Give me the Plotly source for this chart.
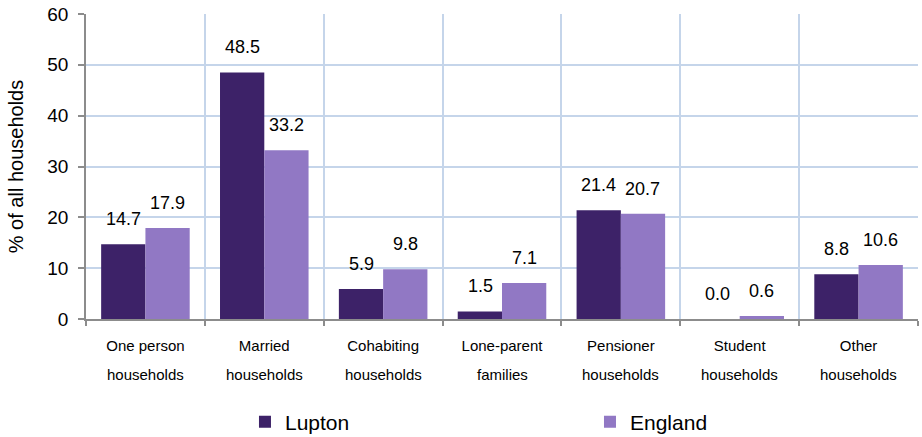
import plotly.graph_objects as go

categories = ["One person households", "Married households", "Cohabiting households",
              "Lone-parent families", "Pensioner households", "Student households",
              "Other households"]
label_line1 = ["One person", "Married", "Cohabiting", "Lone-parent", "Pensioner", "Student", "Other"]
label_line2 = ["households", "households", "households", "families", "households", "households", "households"]
lupton = [14.7, 48.5, 5.9, 1.5, 21.4, 0.0, 8.8]
england = [17.9, 33.2, 9.8, 7.1, 20.7, 0.6, 10.6]

C_LUP = "#3D2268"
C_ENG = "#9178C4"
GRID = "#C5D5EA"
AXIS = "#8C8C8C"
FONT = "Liberation Sans, Arial, sans-serif"

fig = go.Figure()
fig.add_trace(go.Bar(name="Lupton", x=categories, y=lupton, marker_color=C_LUP,
                     marker_line_width=0, legend="legend"))
fig.add_trace(go.Bar(name="England", x=categories, y=england, marker_color=C_ENG,
                     marker_line_width=0, legend="legend2"))

annotations = []
for cat, v in zip(categories, lupton):
    annotations.append(dict(x=cat, y=v, xref="x", yref="y", text=f"{v:.1f}", showarrow=False,
                            xshift=-22, yshift=25, yanchor="middle",
                            font=dict(size=18, color="#000", family=FONT)))
for cat, v in zip(categories, england):
    annotations.append(dict(x=cat, y=v, xref="x", yref="y", text=f"{v:.1f}", showarrow=False,
                            xshift=22, yshift=25, yanchor="middle",
                            font=dict(size=18, color="#000", family=FONT)))
for cat, t in zip(categories, label_line2):
    annotations.append(dict(x=cat, y=-0.1836, xref="x", yref="paper", text=t, showarrow=False,
                            yanchor="middle", font=dict(size=15, color="#000", family=FONT)))

legend_common = dict(orientation="h", xref="container", yref="container",
                     yanchor="middle", y=0.0343,
                     font=dict(size=21, family=FONT, color="#000"),
                     bgcolor="rgba(0,0,0,0)", xanchor="left")

fig.update_layout(
    width=922, height=437,
    margin=dict(l=86, r=4, t=14, b=118, autoexpand=False),
    paper_bgcolor="white", plot_bgcolor="white",
    barmode="group", bargap=0.255, bargroupgap=0,
    font=dict(family=FONT, color="#000"),
    showlegend=True,
    legend=dict(x=0.2657, **legend_common),
    legend2=dict(x=0.6399, **legend_common),
    annotations=annotations,
)
fig.update_xaxes(
    type="category", tickmode="array", tickvals=categories, ticktext=label_line1,
    tickson="boundaries", showgrid=True, gridcolor=GRID, gridwidth=1.5,
    showline=True, linecolor=AXIS, linewidth=1.5, ticks="outside", ticklen=5,
    tickcolor=AXIS, tickwidth=1.5, tickfont=dict(size=15, family=FONT, color="#000"),
    ticklabelstandoff=12, automargin=False,
)
fig.update_yaxes(
    range=[0, 60], dtick=10, showgrid=True, gridcolor=GRID, gridwidth=1.5,
    showline=True, linecolor=AXIS, linewidth=1.5, ticks="outside", ticklen=6,
    tickcolor=AXIS, tickwidth=1.5, tickfont=dict(size=19, family=FONT, color="#000"),
    ticklabelstandoff=6,
    title=dict(text="% of all households", font=dict(size=20, family=FONT, color="#000"),
               standoff=18),
    zeroline=False, automargin=False,
)

fig.write_html("out.html", config={"displayModeBar": False},
               post_script="document.body.style.margin='0';document.body.style.overflow='hidden';")
